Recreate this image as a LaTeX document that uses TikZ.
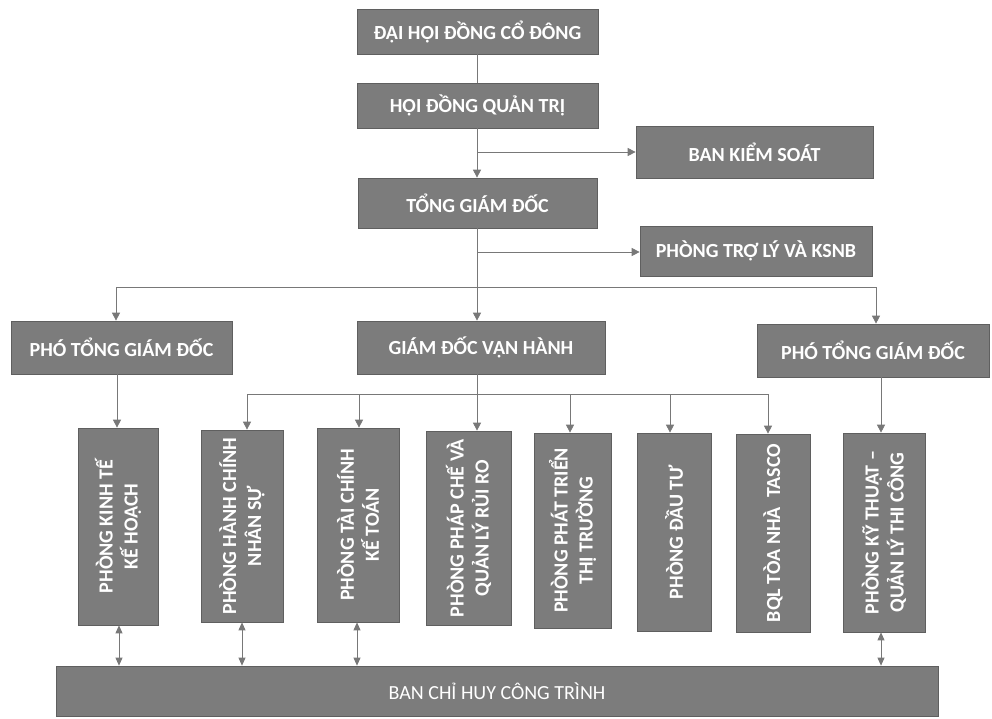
\documentclass[tikz,border=0pt]{standalone}
\usepackage{fontspec}
\setmainfont{Carlito}
\usetikzlibrary{arrows.meta}
\definecolor{boxgray}{RGB}{124,124,124}
\definecolor{boxedge}{RGB}{95,95,95}
\definecolor{linegray}{RGB}{120,120,120}
\tikzset{
  box/.style={fill=boxgray, draw=boxedge, line width=0.7pt, text=white,
    font=\bfseries\fontsize{20}{25}\selectfont, inner sep=0pt, align=center},
  vbox/.style={box, rotate=90},
  conn/.style={draw=linegray, line width=0.8pt},
  arr/.style={conn, -{Triangle[width=8pt,length=8pt]}},
  darr/.style={conn, {Triangle[width=7pt,length=8pt]}-{Triangle[width=7pt,length=8pt]}},
}
\begin{document}
\begin{tikzpicture}[x=1pt,y=-1pt]
\useasboundingbox (0,0) rectangle (992,718);
% top chain
\node[box, minimum width=241pt, minimum height=45pt] (dh) at (477.5,31.5) {ĐẠI HỘI ĐỒNG CỔ ĐÔNG};
\node[box, minimum width=241pt, minimum height=45pt] (hd) at (477.5,105.5) {HỘI ĐỒNG QUẢN TRỊ};
\node[box, minimum width=239pt, minimum height=50pt] (tgd) at (477.5,203) {TỔNG GIÁM ĐỐC};
\node[box, minimum width=237pt, minimum height=52pt] (bks) at (754.5,152) {BAN KIỂM SOÁT};
\node[box, minimum width=232pt, minimum height=50pt] (ksnb) at (756,251) {PHÒNG TRỢ LÝ VÀ KSNB};
% second level
\node[box, minimum width=221pt, minimum height=53pt] (phoL) at (121.5,347.5) {PHÓ TỔNG GIÁM ĐỐC};
\node[box, minimum width=248pt, minimum height=53pt] (gdvh) at (481,347.5) {GIÁM ĐỐC VẬN HÀNH};
\node[box, minimum width=232pt, minimum height=53pt] (phoR) at (873,350.5) {PHÓ TỔNG GIÁM ĐỐC};
% departments (vertical)
\node[vbox, minimum width=197pt, minimum height=80pt] (kt) at (118,526.5) {PHÒNG KINH TẾ\\KẾ HOẠCH};
\node[vbox, minimum width=192pt, minimum height=82pt] (hc) at (242,526) {PHÒNG HÀNH CHÍNH\\NHÂN SỰ};
\node[vbox, minimum width=194pt, minimum height=82pt] (tc) at (358,525) {PHÒNG TÀI CHÍNH\\KẾ TOÁN};
\node[vbox, minimum width=194pt, minimum height=85pt] (pc) at (468.5,528) {PHÒNG PHÁP CHẾ VÀ\\QUẢN LÝ RỦI RO};
\node[vbox, minimum width=195pt, minimum height=77pt] (pt) at (572.5,530.5) {PHÒNG PHÁT TRIỂN\\THỊ TRƯỜNG};
\node[vbox, minimum width=198pt, minimum height=74pt] (dt) at (674,532) {PHÒNG ĐẦU TƯ};
\node[vbox, minimum width=198pt, minimum height=74pt] (bql) at (773,533) {BQL TÒA NHÀ~~TASCO};
\node[vbox, minimum width=199pt, minimum height=82pt] (kth) at (884,532.5) {PHÒNG KỸ THUẬT –\\QUẢN LÝ THI CÔNG};
% bottom
\node[box, font=\mdseries\fontsize{20}{24}\selectfont, minimum width=882pt, minimum height=50pt] (bch) at (497,691) {BAN CHỈ HUY CÔNG TRÌNH};
% coordinates
\coordinate (c1) at (477,152);
\coordinate (c2) at (477,252);
\coordinate (hL) at (116,287);
\coordinate (hR) at (876,287);
\coordinate (dL) at (117,374);
\coordinate (dR) at (881,377);
\coordinate (g1) at (247,394);
\coordinate (g2) at (359,394);
\coordinate (g4) at (570,394);
\coordinate (g5) at (670,394);
\coordinate (g6) at (768,394);
\coordinate (gC) at (477,394);
% connectors
\draw[conn] (dh.south -| c1) -- (c1 |- hd.north);
\draw[arr] (hd.south -| c1) -- (c1 |- tgd.north);
\draw[arr] (c1) -- (c1 -| bks.west);
\draw[arr] (tgd.south -| c2) -- (c2 |- gdvh.north);
\draw[arr] (c2) -- (c2 -| ksnb.west);
\draw[conn] (hL) -- (hR);
\draw[arr] (hL) -- (hL |- phoL.north);
\draw[arr] (hR) -- (hR |- phoR.north);
\draw[arr] (dL) -- (dL |- kt.east);
\draw[arr] (dR) -- (dR |- kth.east);
\draw[arr] (gdvh.south -| gC) -- (gC |- pc.east);
\draw[conn] (g1) -- (g6);
\draw[arr] (g1) -- (g1 |- hc.east);
\draw[arr] (g2) -- (g2 |- tc.east);
\draw[arr] (g4) -- (g4 |- pt.east);
\draw[arr] (g5) -- (g5 |- dt.east);
\draw[arr] (g6) -- (g6 |- bql.east);
% double arrows to bottom
\draw[darr] (119,0 |- kt.west) -- (119,0 |- bch.north);
\draw[darr] (242,0 |- hc.west) -- (242,0 |- bch.north);
\draw[darr] (357,0 |- tc.west) -- (357,0 |- bch.north);
\draw[darr] (881,0 |- kth.west) -- (881,0 |- bch.north);
\end{tikzpicture}
\end{document}
